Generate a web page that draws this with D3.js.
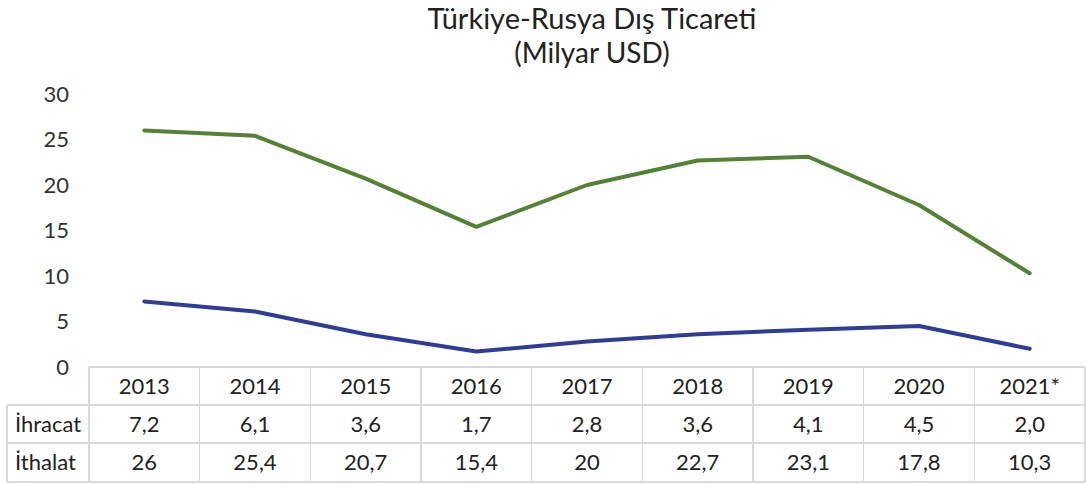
<!DOCTYPE html>
<html><head><meta charset="utf-8">
<script src="https://cdn.jsdelivr.net/npm/d3@7/dist/d3.min.js"></script>
<style>
html,body{margin:0;padding:0;background:#fff;}
svg{display:block;font-family:Lato,"Open Sans",sans-serif;}
</style></head>
<body><svg id="c" width="1086" height="484"></svg>
<script>
const years = ["2013","2014","2015","2016","2017","2018","2019","2020","2021*"];
const ihracat = [7.2, 6.1, 3.6, 1.7, 2.8, 3.6, 4.1, 4.5, 2.0];
const ithalat = [26, 25.4, 20.7, 15.4, 20, 22.7, 23.1, 17.8, 10.3];
const ihracatLabels = ["7,2","6,1","3,6","1,7","2,8","3,6","4,1","4,5","2,0"];
const ithalatLabels = ["26","25,4","20,7","15,4","20","22,7","23,1","17,8","10,3"];
const yTicks = [0,5,10,15,20,25,30];
const seriesNames = ["İhracat","İthalat"];

const svg = d3.select("#c");
const left = 89, right = 1085, tableLeft = 7;
const rowTops = [367, 405, 443, 482];

const x = d3.scaleBand().domain(years).range([left, right]).padding(0);
const y = d3.scaleLinear().domain([0, 30]).range([367, 94]);

// title
svg.append("text").attr("x", 592).attr("y", 29).attr("text-anchor","middle")
  .attr("font-size", 29).attr("fill","#222").text("Türkiye-Rusya Dış Ticareti");
svg.append("text").attr("x", 592).attr("y", 63).attr("text-anchor","middle")
  .attr("font-size", 28).attr("fill","#222").text("(Milyar USD)");

// y axis labels
svg.append("g").selectAll("text").data(yTicks).join("text")
  .attr("x", 69).attr("y", d => y(d)).attr("dy","0.36em")
  .attr("text-anchor","end").attr("font-size", 22).attr("fill","#333")
  .text(d => d);

// lines
const line = d3.line().x((d,i) => x(years[i]) + x.bandwidth()/2).y(d => y(d));
svg.append("path").datum(ithalat).attr("d", line).attr("fill","none")
  .attr("stroke","#548235").attr("stroke-width",4).attr("stroke-linejoin","round").attr("stroke-linecap","round");
svg.append("path").datum(ihracat).attr("d", line).attr("fill","none")
  .attr("stroke","#2E3D98").attr("stroke-width",4).attr("stroke-linejoin","round").attr("stroke-linecap","round");

// table grid
const g = svg.append("g").attr("stroke","#d9d9d9").attr("stroke-width",1.2).attr("shape-rendering","crispEdges");
g.append("line").attr("x1", left).attr("x2", right).attr("y1", rowTops[0]).attr("y2", rowTops[0]);
[1,2,3].forEach(r => g.append("line").attr("x1", tableLeft).attr("x2", right).attr("y1", rowTops[r]).attr("y2", rowTops[r]));
g.append("line").attr("x1", tableLeft).attr("x2", tableLeft).attr("y1", rowTops[1]).attr("y2", rowTops[3]);
years.forEach(yr => g.append("line").attr("x1", x(yr)).attr("x2", x(yr)).attr("y1", rowTops[0]).attr("y2", rowTops[3]));
g.append("line").attr("x1", right).attr("x2", right).attr("y1", rowTops[0]).attr("y2", rowTops[3]);

// table text
const rowMid = r => (rowTops[r] + rowTops[r+1]) / 2;
const cx = d => x(d) + x.bandwidth()/2;
svg.append("g").selectAll("text").data(years).join("text")
  .attr("x", cx).attr("y", rowMid(0)).attr("dy","0.36em").attr("text-anchor","middle")
  .attr("font-size", 22).attr("fill","#222").text(d => d);
svg.append("g").selectAll("text").data(ihracatLabels).join("text")
  .attr("x", (d,i) => cx(years[i])).attr("y", rowMid(1)).attr("dy","0.36em").attr("text-anchor","middle")
  .attr("font-size", 22).attr("fill","#222").text(d => d);
svg.append("g").selectAll("text").data(ithalatLabels).join("text")
  .attr("x", (d,i) => cx(years[i])).attr("y", rowMid(2)).attr("dy","0.36em").attr("text-anchor","middle")
  .attr("font-size", 22).attr("fill","#222").text(d => d);
svg.append("g").selectAll("text").data(seriesNames).join("text")
  .attr("x", 15).attr("y", (d,i) => rowMid(i+1)).attr("dy","0.36em")
  .attr("font-size", 22).attr("fill","#222").text(d => d);
</script></body></html>
